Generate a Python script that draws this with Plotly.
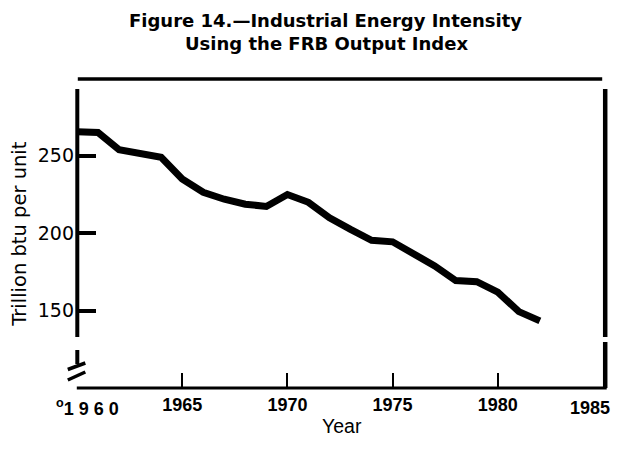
import plotly.graph_objects as go

# ---- data ----
years = list(range(1960, 1983))
intensity = [265.5, 265, 254, 251.5, 249, 235, 226.5, 222, 218.8, 217.3,
             225, 220, 210, 202.5, 195.5, 194.5, 186.5, 179, 169.5, 168.8,
             162, 149.5, 143.5]
x_tick_vals = [1965, 1970, 1975, 1980]
x_tick_text = ["1965", "1970", "1975", "1980"]
first_year_label = "<sup>o</sup>1 9 6 0"
last_year_label = "1985"
y_tick_vals = [150, 200, 250]
title_line1 = "Figure 14.\u2014Industrial Energy Intensity"
title_line2 = "Using the FRB Output Index"
y_title = "Trillion btu per unit"
x_title = "Year"

# the page body adds an 8px margin on every side; lay the figure out in
# page pixels and keep it inside the window so no scrollbar appears
OFF = 8
W, H = 620 - 2 * OFF, 449 - 2 * OFF
L, T = 77.2 - OFF, 89 - OFF
R = W - (602.8 - OFF)
B = H - (388 - OFF)
PW, PH = W - L - R, H - T - B


def px(x):
    return (x - OFF - L) / PW


def py(y):
    return (388 - y) / PH


fig = go.Figure()
fig.add_trace(go.Scatter(x=years, y=intensity, mode="lines",
                         line=dict(color="black", width=7),
                         hoverinfo="skip", showlegend=False))

shapes = []


def seg(x0, y0, x1, y1, w):
    shapes.append(dict(type="line", xref="paper", yref="paper",
                       x0=px(x0), y0=py(y0), x1=px(x1), y1=py(y1),
                       line=dict(color="black", width=w)))


# frame
seg(78, 79, 602, 79, 3.5)          # top rule
seg(77.5, 89, 77.5, 337, 4)        # left axis (upper part)
seg(77.5, 350, 77.5, 364, 4)       # left axis lower stub
seg(68, 369.5, 85.5, 363, 3.5)     # break marks
seg(68, 380, 85.5, 372, 3.5)
seg(77, 388, 606.5, 388, 3)        # bottom axis
seg(605, 89, 605, 337, 4.5)        # right axis
seg(605, 342, 605, 388, 4.5)

tick_font = dict(family="Liberation Sans, Arial", size=18, color="black",
                 weight="bold")
title_font = dict(family="DejaVu Sans", size=18, color="black", weight="bold")

fig.update_layout(
    width=W, height=H,
    margin=dict(l=L, r=R, t=T, b=B, autoexpand=False),
    paper_bgcolor="white", plot_bgcolor="white",
    shapes=shapes,
    xaxis=dict(range=[1960, 1985], showgrid=False, zeroline=False,
               showline=False, tickvals=x_tick_vals, ticktext=x_tick_text,
               ticks="inside", ticklen=15, tickwidth=2, tickcolor="black",
               ticklabelstandoff=4, automargin=False, tickfont=tick_font),
    yaxis=dict(range=[100.2, 293.1], showgrid=False, zeroline=False,
               showline=False, tickvals=y_tick_vals,
               ticks="inside", ticklen=19, tickwidth=3.5, tickcolor="black",
               ticklabelstandoff=2, automargin=False,
               tickfont=dict(family="DejaVu Sans", size=19, color="black")),
    annotations=[
        dict(text=title_line1, xref="paper", yref="paper", x=px(326), y=py(20.5),
             xanchor="center", yanchor="middle", showarrow=False,
             font=title_font),
        dict(text=title_line2, xref="paper", yref="paper", x=px(327), y=py(43.5),
             xanchor="center", yanchor="middle", showarrow=False,
             font=title_font),
        dict(text=y_title, xref="paper", yref="paper", x=px(19), y=py(234),
             xanchor="center", yanchor="middle", showarrow=False, textangle=-90,
             font=dict(family="DejaVu Sans", size=19.5, color="black")),
        dict(text=x_title, xref="paper", yref="paper", x=px(342), y=py(426),
             xanchor="center", yanchor="middle", showarrow=False,
             font=dict(family="Liberation Sans, Arial", size=19.5, color="black")),
        dict(text=first_year_label, xref="paper", yref="paper", x=px(88), y=py(407),
             xanchor="center", yanchor="middle", showarrow=False, font=tick_font),
        dict(text=last_year_label, xref="paper", yref="paper", x=px(611.5), y=py(408),
             xanchor="right", yanchor="middle", showarrow=False, font=tick_font),
    ],
)

fig.write_html("out.html")
